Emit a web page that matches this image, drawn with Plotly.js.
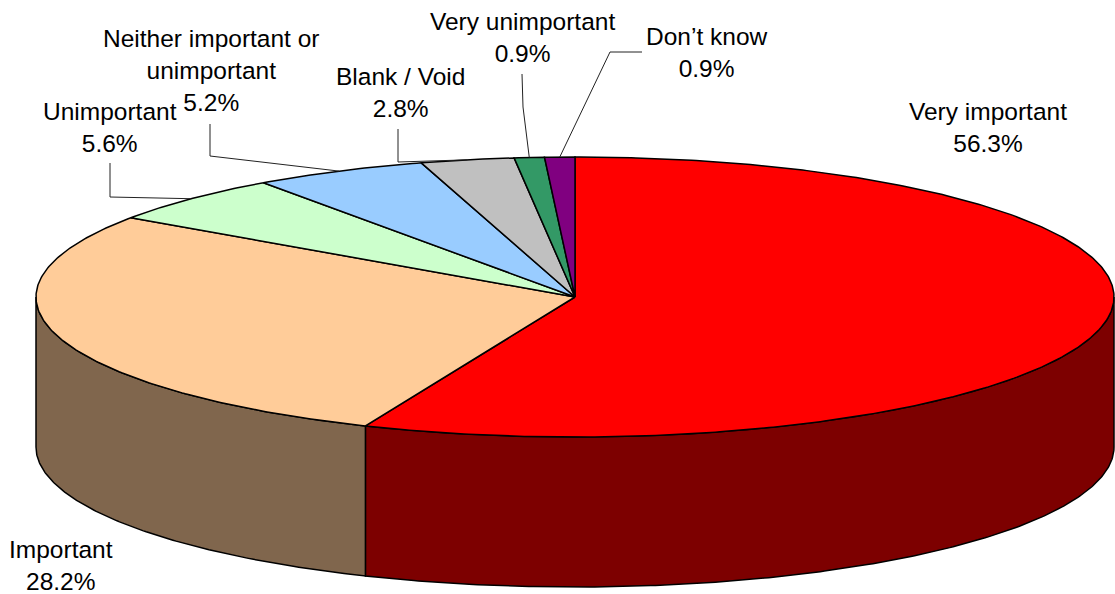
<!DOCTYPE html>
<html>
<head>
<meta charset="utf-8">
<script src="https://cdn.plot.ly/plotly-3.0.1.min.js"></script>
<style>html,body{margin:0;padding:0;background:#fff;}#chart{width:1115px;height:594px;}</style>
</head>
<body>
<div id="chart"></div>
<script>
// ---- data ----
const labels = ['Very important', 'Important', 'Unimportant', 'Neither important or unimportant', 'Blank / Void', 'Very unimportant', 'Don\u2019t know'];
const labelLines = ['Very important', 'Important', 'Unimportant', 'Neither important or<br>unimportant', 'Blank / Void', 'Very unimportant', 'Don\u2019t know'];
const values = [56.3, 28.2, 5.6, 5.2, 2.8, 0.9, 0.9];
const topColors = ['#FF0000', '#FFCC99', '#CCFFCC', '#99CCFF', '#C0C0C0', '#339966', '#800080'];
const sideColors = ['#7D0000', '#80664D', '#668066', '#4D6680', '#606060', '#1A4D33', '#400040'];

// ---- layout of the 3D pie (pixels) ----
const cx = 575, cy = 297, ra = 539, rb = 140, depth = 150;
// label centres and leader elbows (null = no leader)
const labelPos = [[988, 127], [61, 565], [110, 127], [211, 70], [400, 92], [522, 37], [707, 52]];
const leaderStart = [null, null, [110, 163], [210, 124], [398, 129], [522, 74], [642, 52]];
const leaderElbow = [null, null, [110, 197], [210, 156], [398, 162], [523, 107], [610, 52]];

const total = values.reduce((s, v) => s + v, 0);
const rad = d => d * Math.PI / 180;
const px = t => cx + ra * Math.sin(rad(t));
const py = (t, dz) => cy - rb * Math.cos(rad(t)) + (dz || 0);
function arc(t1, t2, dz) {
  const xs = [], ys = [];
  const n = Math.max(2, Math.ceil(Math.abs(t2 - t1) / 0.5));
  for (let i = 0; i <= n; i++) {
    const t = t1 + (t2 - t1) * i / n;
    xs.push(px(t)); ys.push(py(t, dz));
  }
  return [xs, ys];
}

const traces = [];
let cum = 0;
const angles = values.map(v => { const a0 = cum / total * 360; cum += v; return [a0, cum / total * 360]; });

// sides (front half, 90..270 deg)
angles.forEach(([a0, a1], i) => {
  const s = Math.max(a0, 90), e = Math.min(a1, 270);
  if (e <= s) return;
  const [tx, ty] = arc(s, e, 0);
  const [bx, by] = arc(e, s, depth);
  traces.push({
    x: tx.concat(bx, [tx[0]]), y: ty.concat(by, [ty[0]]),
    mode: 'lines', fill: 'toself', fillcolor: sideColors[i],
    line: {color: '#000', width: 1.5}, hoverinfo: 'skip', showlegend: false
  });
});

// top slices
angles.forEach(([a0, a1], i) => {
  const [tx, ty] = arc(a0, a1, 0);
  traces.push({
    x: [cx].concat(tx, [cx]), y: [cy].concat(ty, [cy]),
    mode: 'lines', fill: 'toself', fillcolor: topColors[i],
    line: {color: '#000', width: 1.5}, hoverinfo: 'skip', showlegend: false
  });
});

// leader lines to slice mid-angles on the rim
angles.forEach(([a0, a1], i) => {
  if (!leaderStart[i]) return;
  const m = (a0 + a1) / 2;
  traces.push({
    x: [leaderStart[i][0], leaderElbow[i][0], px(m)],
    y: [leaderStart[i][1], leaderElbow[i][1], py(m, 0)],
    mode: 'lines', line: {color: '#222', width: 1}, hoverinfo: 'skip', showlegend: false
  });
});

const annotations = values.map((v, i) => ({
  x: labelPos[i][0], y: labelPos[i][1], xref: 'x', yref: 'y',
  text: labelLines[i] + '<br>' + (v / total * 100 * total / 100).toFixed(1) + '%',
  showarrow: false, xanchor: 'center', yanchor: 'middle', align: 'center',
  font: {family: 'Liberation Sans, Arial, sans-serif', size: 24.5, color: '#000'}
}));

const layout = {
  width: 1115, height: 594,
  margin: {l: 0, r: 0, t: 0, b: 0},
  paper_bgcolor: '#fff', plot_bgcolor: '#fff',
  xaxis: {range: [0, 1115], visible: false, fixedrange: true},
  yaxis: {range: [594, 0], visible: false, fixedrange: true},
  annotations: annotations,
  showlegend: false
};
Plotly.newPlot('chart', traces, layout, {displayModeBar: false, staticPlot: true});
</script>
</body>
</html>
